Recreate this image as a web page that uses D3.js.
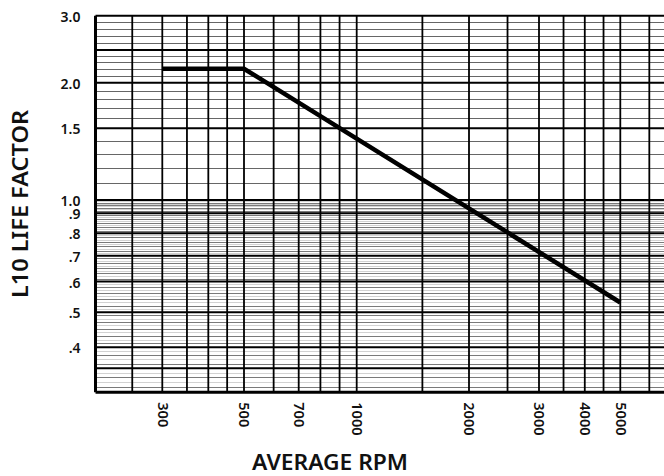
<!DOCTYPE html>
<html>
<head>
<meta charset="utf-8">
<script src="https://cdn.jsdelivr.net/npm/d3@7"></script>
<style>
  body { margin: 0; background: #fff; }
  svg { display: block; font-family: "Noto Sans", "Open Sans", sans-serif; }
</style>
</head>
<body>
<div id="chart"></div>
<script>
// curve: L10 life factor vs average rpm
var rpm = [300, 500, 5000];
var lifeFactor = [2.2, 2.2, 0.53];

// axis labels
var rpmTicks = [300, 500, 700, 1000, 2000, 3000, 4000, 5000];
var factorTicks = [3.0, 2.0, 1.5, 1.0, 0.9, 0.8, 0.7, 0.6, 0.5, 0.4];
var factorTickLabels = ["3.0", "2.0", "1.5", "1.0", ".9", ".8", ".7", ".6", ".5", ".4"];

// log paper grid
var rpmGrid = [200, 250, 300, 350, 400, 450, 500, 600, 700, 800, 900, 1000,
               1500, 2000, 2500, 3000, 3500, 4000, 4500, 5000, 6000, 7000];
var factorMajor = [3.0, 2.5, 2.0, 1.5, 1.0, 0.9, 0.8, 0.7, 0.6, 0.5, 0.4, 0.35, 0.3];

var width = 664, height = 476;
var plotLeft = 95.5, plotTop = 15.7, plotBottom = 392.3, plotRight = 670;

var svg = d3.select("#chart").append("svg")
    .attr("width", width)
    .attr("height", height);

// the printed grid is not quite uniform, so the scales are pinned at a few lines
var x = d3.scaleLog()
    .domain([200, 300, 500, 1000, 2000, 3000, 5000])
    .range([plotLeft, 162.3, 244, 356.7, 469, 539, 620.3]);

var y = d3.scaleLog()
    .domain([0.3, 0.4, 0.5, 0.9, 1.0, 1.5, 2.0, 2.5, 3.0])
    .range([plotBottom, 347.3, 312.3, 213.3, 200, 128.3, 82.7, 50, plotTop]);

var grid = svg.append("g");

// minor horizontal lines
var minorHi = d3.range(11, 30).map(function(d){ return d / 10; })
  .filter(function(d){ return factorMajor.indexOf(d) < 0; });
var minorLo = d3.range(31, 100).map(function(d){ return d / 100; })
  .filter(function(d){ return factorMajor.indexOf(d) < 0; });

grid.selectAll(".minhi")
  .data(minorHi)
  .enter().append("line")
    .attr("x1", plotLeft).attr("x2", plotRight)
    .attr("y1", function(d){ return Math.round(y(d)) + 0.5; })
    .attr("y2", function(d){ return Math.round(y(d)) + 0.5; })
    .attr("stroke", "#666")
    .attr("stroke-width", 1);

grid.selectAll(".minlo")
  .data(minorLo)
  .enter().append("line")
    .attr("x1", plotLeft).attr("x2", plotRight)
    .attr("y1", function(d){ return Math.round(y(d)) + 0.5; })
    .attr("y2", function(d){ return Math.round(y(d)) + 0.5; })
    .attr("stroke", function(d, i){ return i % 2 ? "#d2d2d2" : "#7a7a7a"; })
    .attr("stroke-width", 1);

// major horizontal lines
grid.selectAll(".maj")
  .data(factorMajor)
  .enter().append("line")
    .attr("x1", plotLeft).attr("x2", plotRight)
    .attr("y1", function(d){ return y(d); })
    .attr("y2", function(d){ return y(d); })
    .attr("stroke", "#000")
    .attr("stroke-width", function(d){ return d == 0.3 ? 3 : 2; });

// vertical lines
grid.selectAll(".vert")
  .data(rpmGrid)
  .enter().append("line")
    .attr("x1", function(d){ return x(d); })
    .attr("x2", function(d){ return x(d); })
    .attr("y1", plotTop).attr("y2", plotBottom)
    .attr("stroke", "#000")
    .attr("stroke-width", function(d){ return d == 200 ? 3 : 1.8; });

// curve
var pts = rpm.map(function(d, i){ return [d, lifeFactor[i]]; });
svg.append("path")
  .datum(pts)
  .attr("fill", "none")
  .attr("stroke", "#000")
  .attr("stroke-width", 4.5)
  .attr("d", d3.line()
    .x(function(d){ return x(d[0]); })
    .y(function(d){ return y(d[1]); }));

// y axis labels
var yAxis = svg.append("g")
  .attr("transform", "translate(" + plotLeft + ",1)")
  .call(d3.axisLeft(y)
    .tickValues(factorTicks)
    .tickFormat(function(d, i){ return factorTickLabels[i]; })
    .tickSize(0)
    .tickPadding(15));
yAxis.select(".domain").remove();
yAxis.selectAll("text")
  .attr("fill", "#111")
  .style("font-size", "14px")
  .style("font-weight", "600")
  .style("font-family", "'Noto Sans', sans-serif");

// x axis labels
var xAxis = svg.append("g")
  .attr("transform", "translate(0," + plotBottom + ")")
  .call(d3.axisBottom(x)
    .tickValues(rpmTicks)
    .tickFormat(d3.format("d"))
    .tickSize(0));
xAxis.select(".domain").remove();
xAxis.selectAll("text")
  .attr("transform", "rotate(90)")
  .attr("x", 10)
  .attr("y", 0)
  .attr("dy", "0.35em")
  .style("text-anchor", "start")
  .attr("fill", "#111")
  .style("font-size", "14.5px")
  .style("font-weight", "600")
  .style("font-family", "'Noto Sans', sans-serif");

// axis titles
svg.append("text")
  .attr("transform", "translate(28,204) rotate(-90)")
  .style("text-anchor", "middle")
  .style("font-size", "22px")
  .style("font-weight", "600")
  .attr("textLength", 188)
  .attr("lengthAdjust", "spacingAndGlyphs")
  .attr("fill", "#111")
  .text("L10 LIFE FACTOR");

svg.append("text")
  .attr("x", 330)
  .attr("y", 470)
  .style("text-anchor", "middle")
  .style("font-size", "21px")
  .style("font-weight", "600")
  .attr("textLength", 156)
  .attr("lengthAdjust", "spacingAndGlyphs")
  .attr("fill", "#111")
  .text("AVERAGE RPM");
</script>
</body>
</html>
